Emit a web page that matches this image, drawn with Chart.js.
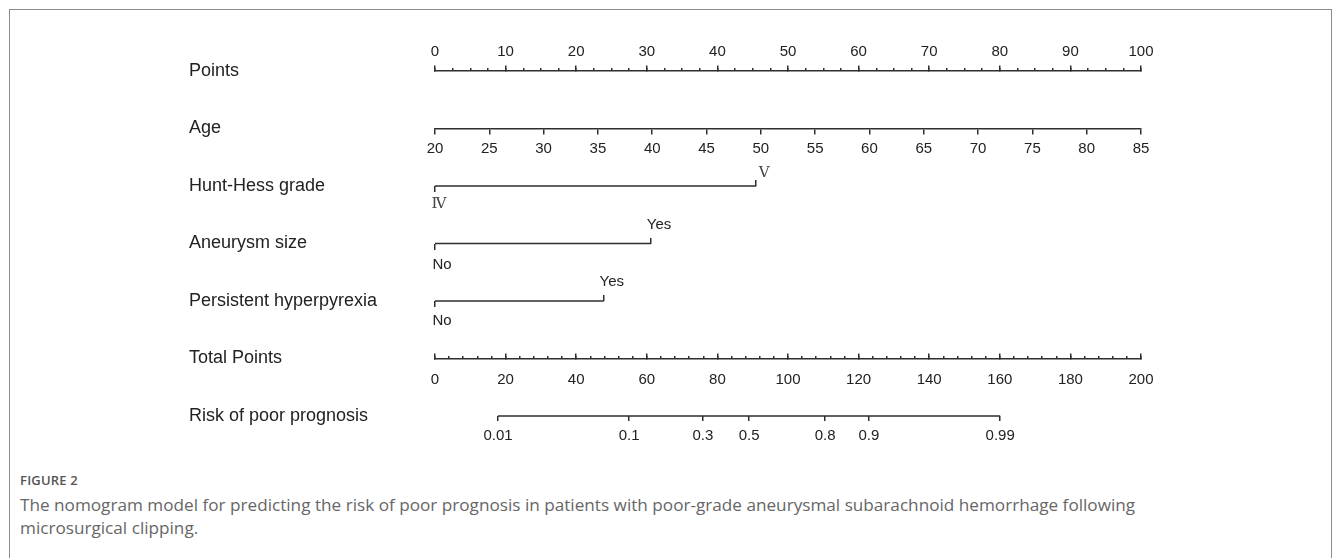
<!DOCTYPE html>
<html>
<head>
<meta charset="utf-8">
<script src="https://cdn.jsdelivr.net/npm/chart.js@4.4.1/dist/chart.umd.min.js"></script>
<style>
  html, body { margin: 0; padding: 0; background: #fff; width: 1333px; height: 558px; overflow: hidden; }
  #frame { position: absolute; left: 9px; top: 9px; width: 1321px; height: 620px; border: 1.5px solid #8c8c8c; border-bottom: none; }
  #wrap { position: absolute; left: 0; top: 0; width: 1333px; height: 470px; }
  #fig { position: absolute; left: 20px; top: 471px; font-family: "Open Sans", "Noto Sans", sans-serif; font-size: 13px; font-weight: 600; color: #555; letter-spacing: 0.2px; }
  #cap { position: absolute; left: 20px; top: 493px; font-family: "Open Sans", "Noto Sans", sans-serif; font-size: 16px; line-height: 23px; color: #666; white-space: nowrap; }
</style>
</head>
<body>
<div id="frame"></div>
<div id="wrap"><canvas id="c" width="1333" height="470"></canvas></div>
<div id="fig">FIGURE 2</div>
<div id="cap"><span id="l1">The nomogram model for predicting the risk of poor prognosis in patients with poor-grade aneurysmal subarachnoid hemorrhage following</span><br>microsurgical clipping.</div>
<script>
// ---- data ----
const rowLabels = ['Points', 'Age', 'Hunt-Hess grade', 'Aneurysm size', 'Persistent hyperpyrexia', 'Total Points', 'Risk of poor prognosis'];

const pointsRange = [0, 100];
const pointsMajorStep = 10;
const pointsMinorStep = 2.5;

const ageRange = [20, 85];
const ageStep = 5;

const huntHessLevels = ['\u2163', '\u2164'];   // IV, V
const huntHessPoints = [0, 45.5];

const aneurysmLevels = ['No', 'Yes'];
const aneurysmPoints = [0, 30.6];

const hyperpyrexiaLevels = ['No', 'Yes'];
const hyperpyrexiaPoints = [0, 23.9];

const totalRange = [0, 200];
const totalMajorStep = 20;
const totalMinorStep = 4;

const riskTickLabels = ['0.01', '0.1', '0.3', '0.5', '0.8', '0.9', '0.99'];
const riskTotalPoints = [17.85, 55.0, 75.9, 89.0, 110.5, 122.9, 160.1];

// ---- styling ----
const LINE = '#2e2e2e';
const TXT = '#222';
const SANS = "'Liberation Sans', Arial, sans-serif";
const SERIF = "'Liberation Serif', 'DejaVu Serif', serif";

function stepValues(min, max, step) {
  const out = [];
  const n = Math.round((max - min) / step);
  for (let i = 0; i <= n; i++) out.push(+(min + i * step).toFixed(6));
  return out;
}

function xAxis(o) {
  return {
    type: 'linear', axis: 'x', position: { y: o.row },
    min: o.min, max: o.max, bounds: 'data',
    grid: { drawOnChartArea: false, drawTicks: true, tickLength: o.tickLen, color: LINE, lineWidth: 1.5 },
    border: { display: !!o.border, color: LINE, width: 1.5 },
    ticks: {
      display: o.labels !== false, autoSkip: false, maxRotation: 0, minRotation: 0,
      padding: o.padding || 0, color: o.color || TXT, labelOffset: o.labelOffset || 0,
      font: { family: o.family || SANS, size: o.size || 15 },
      callback: (v, i) => (Array.isArray(o.labels) ? o.labels[i] : String(v))
    },
    afterBuildTicks: s => { s.ticks = o.values.map(v => ({ value: v })); }
  };
}

function seg(points, row, axisId) {
  return {
    type: 'line', xAxisID: axisId, yAxisID: 'y',
    data: [{ x: points[0], y: rowLabels[row] }, { x: points[points.length - 1], y: rowLabels[row] }],
    borderColor: LINE, borderWidth: 1.5, pointRadius: 0, fill: false, tension: 0, clip: false
  };
}

const scales = {
  y: {
    type: 'category', labels: rowLabels, position: 'left', offset: false,
    grid: { display: false, drawTicks: false }, border: { display: false },
    ticks: { crossAlign: 'far', padding: 0, color: TXT, font: { family: SANS, size: 18 } },
    afterFit: s => { s.width = 246; }
  },
  // Points row
  xPts: xAxis({ row: 0, min: pointsRange[0], max: pointsRange[1], values: stepValues(pointsRange[0], pointsRange[1], pointsMajorStep), tickLen: -6, padding: -22, border: true }),
  xPtsMinor: xAxis({ row: 0, min: pointsRange[0], max: pointsRange[1], values: stepValues(pointsRange[0], pointsRange[1], pointsMinorStep), tickLen: -3, labels: false }),
  // Age row
  xAge: xAxis({ row: 1, min: ageRange[0], max: ageRange[1], values: stepValues(ageRange[0], ageRange[1], ageStep), tickLen: 5, padding: 6, border: true }),
  // Hunt-Hess
  xHHlo: xAxis({ row: 2, min: pointsRange[0], max: pointsRange[1], values: [huntHessPoints[0]], labels: [huntHessLevels[0]], tickLen: 6, padding: 3, family: SERIF, size: 15, color: '#444', labelOffset: 4 }),
  xHHhi: xAxis({ row: 2, min: pointsRange[0], max: pointsRange[1], values: [huntHessPoints[1]], labels: [huntHessLevels[1]], tickLen: -6, padding: -16, family: SERIF, size: 15, color: '#444', labelOffset: 8 }),
  // Aneurysm size
  xANlo: xAxis({ row: 3, min: pointsRange[0], max: pointsRange[1], values: [aneurysmPoints[0]], labels: [aneurysmLevels[0]], tickLen: 6, padding: 6, labelOffset: 7 }),
  xANhi: xAxis({ row: 3, min: pointsRange[0], max: pointsRange[1], values: [aneurysmPoints[1]], labels: [aneurysmLevels[1]], tickLen: -6, padding: -22, labelOffset: 8 }),
  // Persistent hyperpyrexia
  xHPlo: xAxis({ row: 4, min: pointsRange[0], max: pointsRange[1], values: [hyperpyrexiaPoints[0]], labels: [hyperpyrexiaLevels[0]], tickLen: 6, padding: 5, labelOffset: 7 }),
  xHPhi: xAxis({ row: 4, min: pointsRange[0], max: pointsRange[1], values: [hyperpyrexiaPoints[1]], labels: [hyperpyrexiaLevels[1]], tickLen: -6, padding: -22, labelOffset: 8 }),
  // Total points
  xTot: xAxis({ row: 5, min: totalRange[0], max: totalRange[1], values: stepValues(totalRange[0], totalRange[1], totalMajorStep), tickLen: -6, padding: 18, border: true }),
  xTotMinor: xAxis({ row: 5, min: totalRange[0], max: totalRange[1], values: stepValues(totalRange[0], totalRange[1], totalMinorStep), tickLen: -3, labels: false }),
  // Risk
  xRisk: xAxis({ row: 6, min: totalRange[0], max: totalRange[1], values: riskTotalPoints, labels: riskTickLabels, tickLen: 5, padding: 6 })
};

new Chart(document.getElementById('c'), {
  type: 'line',
  data: {
    datasets: [
      seg(huntHessPoints, 2, 'xPts'),
      seg(aneurysmPoints, 3, 'xPts'),
      seg(hyperpyrexiaPoints, 4, 'xPts'),
      seg(riskTotalPoints, 6, 'xTot')
    ]
  },
  options: {
    responsive: false, animation: false, devicePixelRatio: 1,
    layout: { padding: { left: 189, right: 192, top: 71, bottom: 54 } },
    plugins: { legend: { display: false }, tooltip: { enabled: false } },
    events: [],
    scales
  }
});

// fit caption line 1 to the reference width
(function () {
  const l1 = document.getElementById('l1');
  const cap = document.getElementById('cap');
  const w = l1.getBoundingClientRect().width;
  if (w > 0) cap.style.fontSize = (16 * 1116 / w).toFixed(2) + 'px';
})();
</script>
</body>
</html>
